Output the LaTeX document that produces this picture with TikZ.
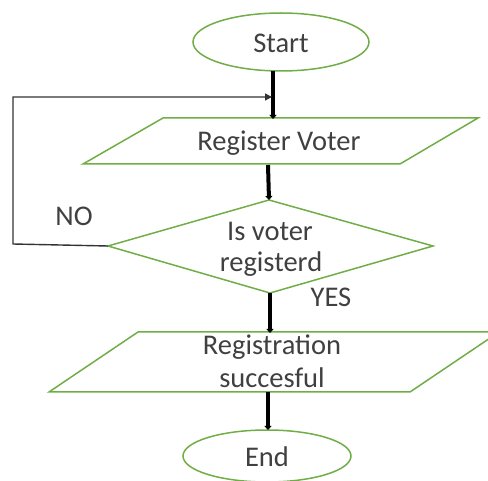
\documentclass[tikz,border=0pt]{standalone}
\usepackage{fontspec}
\setmainfont{Carlito}
\usetikzlibrary{shapes.geometric,arrows.meta}
\definecolor{shapegreen}{HTML}{70AD47}
\definecolor{txtgray}{HTML}{404040}
\tikzset{
  term/.style={ellipse, draw=shapegreen, line width=1.5pt, inner sep=0pt},
  shapeline/.style={draw=shapegreen, line width=1.5pt, line join=miter},
  lbl/.style={text=txtgray, font=\fontsize{28.5}{34}\selectfont, inner sep=0pt, align=center},
  flow/.style={line width=4pt, black, -{Triangle[length=4pt,width=7pt]}},
  loopline/.style={line width=1.4pt, black!80, -{Triangle[length=7pt,width=7pt]}}
}
\begin{document}
\begin{tikzpicture}[x=1pt,y=-1pt]
\useasboundingbox (0,0) rectangle (488,481);
% Start
\node[term, minimum width=176pt, minimum height=58pt] (start) at (281,42) {};
\node[lbl] (starttxt) at (281,43) {Start};
% Register Voter parallelogram
\coordinate (p1a) at (163,118);
\coordinate (p1b) at (478,118);
\coordinate (p1c) at (400,164);
\coordinate (p1d) at (83,164);
\draw[shapeline] (p1a) -- (p1b) -- (p1c) -- (p1d) -- cycle;
\node[lbl] (reg) at (279,143) {Register Voter};
% Decision diamond
\coordinate (dt) at (269,200);
\coordinate (dr) at (433,246);
\coordinate (db) at (270,293);
\coordinate (dl) at (108,246);
\draw[shapeline] (dt) -- (dr) -- (db) -- (dl) -- cycle;
\node[lbl] (dec1) at (270,231) {Is voter};
\node[lbl] (dec2) at (271,264) {registerd};
% Registration successful parallelogram
\coordinate (p2a) at (138,332);
\coordinate (p2b) at (499,332);
\coordinate (p2c) at (410,392);
\coordinate (p2d) at (49,392);
\draw[shapeline] (p2a) -- (p2b) -- (p2c) -- (p2d) -- cycle;
\node[lbl] (suc1) at (272,347) {Registration};
\node[lbl] (suc2) at (272,378) {succesful};
% End
\node[term, minimum width=168pt, minimum height=52pt] (end) at (267,456) {};
\node[lbl] (endtxt) at (267,457) {End};
% Labels
\node[lbl] (no) at (74,216) {NO};
\node[lbl] (yes) at (331,297) {YES};
% Connectors
\coordinate (s1) at (273,71);
\coordinate (s2) at (273,119);
\draw[flow] (s1) -- (s2);
\coordinate (r1) at (268,165);
\draw[flow] (r1) -- (dt);
\coordinate (y2) at (270,333);
\draw[flow] (db) -- (y2);
\coordinate (e1) at (268,392);
\coordinate (e2) at (268,430);
\draw[flow] (e1) -- (e2);
\coordinate (lp1) at (13,244);
\coordinate (lp2) at (13,97);
\coordinate (lp3) at (272,97);
\draw[loopline] (dl) -- (lp1) -- (lp2) -- (lp3);
\end{tikzpicture}
\end{document}
